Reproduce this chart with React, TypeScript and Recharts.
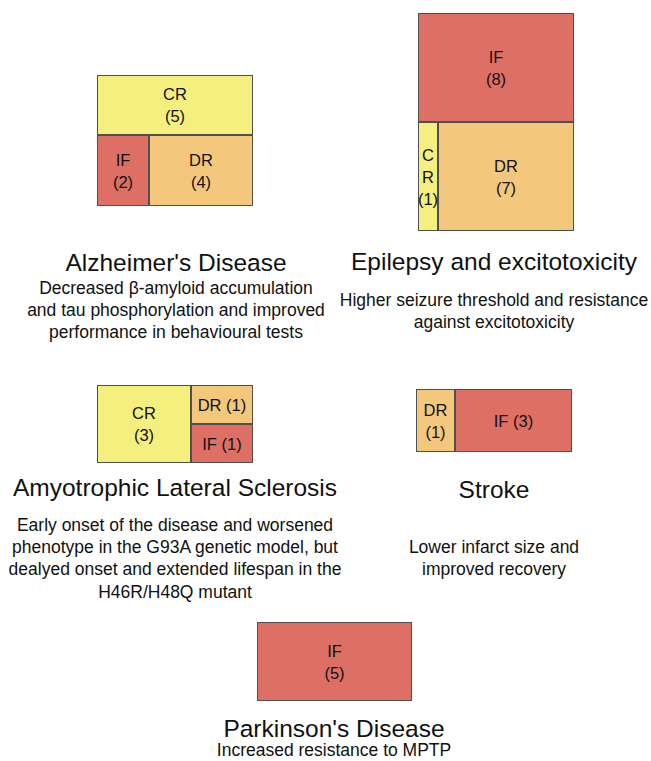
import { Treemap } from 'recharts';

// diet regimen counts per disease (CR = caloric restriction, IF = intermittent fasting, DR = dietary restriction)
const alzheimerNames = ['CR', 'IF', 'DR'];
const alzheimerCounts = [5, 2, 4];
const epilepsyNames = ['IF', 'CR', 'DR'];
const epilepsyCounts = [8, 1, 7];
const alsNames = ['CR', 'DR', 'IF'];
const alsCounts = [3, 1, 1];
const strokeNames = ['DR', 'IF'];
const strokeCounts = [1, 3];
const parkinsonNames = ['IF'];
const parkinsonCounts = [5];

const alzheimerText = ['Decreased β-amyloid accumulation', 'and tau phosphorylation and improved', 'performance in behavioural tests'];
const epilepsyText = ['Higher seizure threshold and resistance', 'against excitotoxicity'];
const alsText = ['Early onset of the disease and worsened', 'phenotype in the G93A genetic model, but', 'dealyed onset and extended lifespan in the', 'H46R/H48Q mutant'];
const strokeText = ['Lower infarct size and', 'improved recovery'];
const parkinsonText = ['Increased resistance to MPTP'];

const COLORS: Record<string, string> = { CR: '#f5ef80', IF: '#de6f64', DR: '#f4c87c' };
const FONT = '"Liberation Sans", Arial, Helvetica, sans-serif';

function buildTree(names: string[], counts: number[], groupFrom?: number) {
  const leaves = names.map((name, i) => ({ name, value: counts[i] }));
  if (groupFrom === undefined) return leaves;
  return [...leaves.slice(0, groupFrom), { name: 'group', children: leaves.slice(groupFrom) }];
}

const makeCell = (inline: string[]) => (props: any) => {
  const { x, y, width, height, name, value, children } = props;
  if (children && children.length) return <g />;
  let lines: string[];
  if (width < 30) lines = [...String(name).split(''), `(${value})`];
  else if (inline.includes(name)) lines = [`${name} (${value})`];
  else lines = [name, `(${value})`];
  const lh = 22;
  const cx = x + width / 2;
  const cy = y + height / 2;
  return (
    <g>
      <rect x={x + 0.5} y={y + 0.5} width={width - 1} height={height - 1} fill={COLORS[name]} stroke="#505050" strokeWidth={1} />
      {lines.map((t, i) => (
        <text key={i} x={cx} y={cy + (i - (lines.length - 1) / 2) * lh + 6} textAnchor="middle" fontSize={16.5} fill="#111" fontFamily={FONT}>
          {t}
        </text>
      ))}
    </g>
  );
};

function Block({ left, top, width, height, data, ratio = 1.618, inline = [] }: any) {
  return (
    <div style={{ position: 'absolute', left, top, width, height }}>
      <Treemap
        width={width}
        height={height}
        data={data}
        dataKey="value"
        nameKey="name"
        aspectRatio={ratio}
        isAnimationActive={false}
        content={makeCell(inline)}
      />
    </div>
  );
}

function Caption({ cx, titleY, title, lines, lineY }: { cx: number; titleY: number; title: string; lines: string[]; lineY: number[] }) {
  return (
    <g>
      <text x={cx} y={titleY} textAnchor="middle" fontSize={24.5} fill="#111">{title}</text>
      {lines.map((l, i) => (
        <text key={i} x={cx} y={lineY[i]} textAnchor="middle" fontSize={17.5} fill="#111">{l}</text>
      ))}
    </g>
  );
}

export default function App() {
  return (
    <div style={{ position: 'absolute', left: 0, top: 0, width: 651, height: 761, background: '#fff', fontFamily: FONT }}>
      <svg width={651} height={761} style={{ position: 'absolute', left: 0, top: 0 }} fontFamily={FONT}>
        <Caption cx={176} titleY={271} title="Alzheimer's Disease" lines={alzheimerText} lineY={[294, 316, 338]} />
        <Caption cx={494} titleY={270} title="Epilepsy and excitotoxicity" lines={epilepsyText} lineY={[306, 328]} />
        <Caption cx={175} titleY={496} title="Amyotrophic Lateral Sclerosis" lines={alsText} lineY={[531, 553, 575, 598]} />
        <Caption cx={494} titleY={498} title="Stroke" lines={strokeText} lineY={[553, 575]} />
        <Caption cx={334} titleY={737} title="Parkinson's Disease" lines={parkinsonText} lineY={[756]} />
      </svg>
      <Block left={97} top={75} width={156} height={131} data={buildTree(alzheimerNames, alzheimerCounts, 1)} />
      <Block left={418} top={13} width={156} height={218} data={buildTree(epilepsyNames, epilepsyCounts)} ratio={1} />
      <Block left={97} top={385} width={156} height={78} data={buildTree(alsNames, alsCounts)} ratio={1} inline={['DR', 'IF']} />
      <Block left={416} top={389} width={156} height={63} data={buildTree(strokeNames, strokeCounts)} inline={['IF']} />
      <Block left={257} top={622} width={155} height={79} data={buildTree(parkinsonNames, parkinsonCounts)} />
    </div>
  );
}
